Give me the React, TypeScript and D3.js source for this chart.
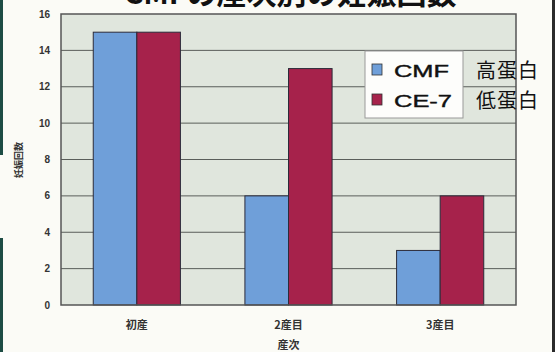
import React from 'react'
import * as d3 from 'd3'

const categories = ['初産', '2産目', '3産目']
const seriesNames = ['CMF', 'CE-7']
const seriesNotes = ['高蛋白', '低蛋白']
const cmfValues = [15, 6, 3]
const ce7Values = [15, 13, 6]
const yTicks = [0, 2, 4, 6, 8, 10, 12, 14, 16]

const colors = ['#6f9fd9', '#a6224b']
const legendTextLength = [55, 58]

export default function App() {
    const width = 555
    const height = 352
    const plot = { left: 61, right: 516, top: 14, bottom: 305 }

    const x0 = d3.scaleBand<string>()
        .domain(categories)
        .range([plot.left, plot.right])
        .padding(0)
    const x1 = d3.scaleBand<string>()
        .domain(seriesNames)
        .range([0, x0.bandwidth()])
        .paddingInner(0)
        .paddingOuter(0.74)
    const y = d3.scaleLinear().domain([0, 16]).range([plot.bottom, plot.top])

    const values = [cmfValues, ce7Values]
    const font = "'Liberation Sans', Arial, sans-serif"
    const cjk = "'Noto Sans CJK JP', sans-serif"

    return (
        <div style={{ position: 'fixed', left: 0, top: 0 }}>
            <svg width={width} height={height} style={{ display: 'block', background: '#fbfbf6' }}>
                {/* title, cut off at the top as in the scan */}
                <text x={290} y={4} textAnchor="middle" fontFamily={cjk} fontWeight="bold"
                    fontSize={30} fill="#111">CMFの産次別の妊娠回数</text>

                {/* edges of the scanned page */}
                <rect x={0} y={0} width={3} height={155} fill="#1d4c44" />
                <rect x={0} y={238} width={3} height={114} fill="#1d4c44" />
                <rect x={552} y={0} width={3} height={352} fill="#2a2a2a" />

                <rect x={plot.left} y={plot.top} width={plot.right - plot.left}
                    height={plot.bottom - plot.top} fill="#e0e6dd" />
                {yTicks.slice(1, -1).map(t => (
                    <line key={t} x1={plot.left} x2={plot.right} y1={y(t)} y2={y(t)}
                        stroke="#5a5e5a" strokeWidth={1} />
                ))}
                {yTicks.map(t => (
                    <text key={'l' + t} x={50} y={y(t)} dy="0.35em" textAnchor="end"
                        fontFamily={font} fontWeight="bold" fontSize={10} fill="#333">{t}</text>
                ))}

                {categories.map((c, i) => (
                    <g key={c} transform={`translate(${x0(c)},0)`}>
                        {seriesNames.map((s, j) => (
                            <rect key={s} x={x1(s)} y={y(values[j][i])} width={x1.bandwidth()}
                                height={plot.bottom - y(values[j][i])} fill={colors[j]}
                                stroke="#2b2b3a" strokeWidth={1} />
                        ))}
                        <text x={x0.bandwidth() / 2} y={329} textAnchor="middle" fontFamily={cjk}
                            fontWeight="bold" fontSize={11} fill="#333">{c}</text>
                    </g>
                ))}

                <rect x={plot.left} y={plot.top} width={plot.right - plot.left}
                    height={plot.bottom - plot.top} fill="none" stroke="#555" strokeWidth={1.5} />

                <text x={(plot.left + plot.right) / 2} y={349} textAnchor="middle" fontFamily={cjk}
                    fontWeight="bold" fontSize={11} fill="#333">産次</text>
                <text transform={`translate(22,160) rotate(-90)`} textAnchor="middle" fontFamily={cjk}
                    fontWeight="bold" fontSize={9} fill="#333">妊娠回数</text>

                {/* legend */}
                <rect x={365} y={51} width={98} height={67} fill="#fdfdfb" stroke="#999" strokeWidth={1} />
                {seriesNames.map((s, j) => (
                    <g key={s} transform={`translate(0,${j * 30})`}>
                        <rect x={372} y={64} width={10} height={11} fill={colors[j]} stroke="#333" strokeWidth={0.8} />
                        <text x={394} y={77} fontFamily={font} fontSize={17}
                            textLength={legendTextLength[j]} lengthAdjust="spacingAndGlyphs"
                            fill="#111" stroke="#111" strokeWidth={0.4}>{s}</text>
                        <text x={476} y={78} fontFamily={cjk} fontSize={20} letterSpacing={1}
                            fill="#111">{seriesNotes[j]}</text>
                    </g>
                ))}
            </svg>
        </div>
    )
}
